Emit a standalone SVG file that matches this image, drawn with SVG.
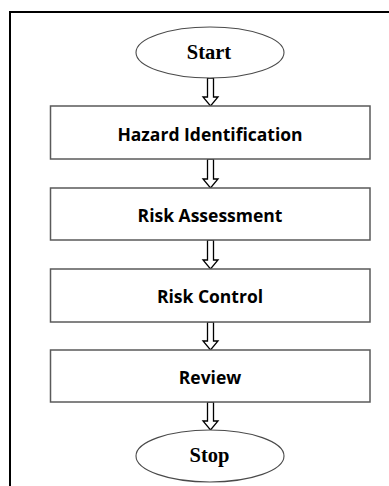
<svg xmlns="http://www.w3.org/2000/svg" width="389" height="486" viewBox="0 0 389 486">
<style>
.box{fill:#fff;stroke:#5a5a5a;stroke-width:1.5}
.oval{fill:#fff;stroke:#4a4a4a;stroke-width:1.1}
.arr{fill:#fff;stroke:#000;stroke-width:1.3;stroke-linejoin:miter}
.lbl{font-family:"Open Sans","Liberation Sans",sans-serif;font-weight:700;font-size:17.5px;fill:#000;text-anchor:middle}
.term{font-family:"Liberation Serif","Times New Roman",serif;font-weight:700;font-size:20.5px;fill:#000;text-anchor:middle}
.frame{stroke:#000;stroke-width:2;fill:none}
</style>
<rect width="389" height="486" fill="#fff"/>
<g id="frame">
<line class="frame" x1="9" y1="12" x2="389" y2="12"/>
<line class="frame" x1="10" y1="11" x2="10" y2="486"/>
</g>
<g id="connectors">
<polygon class="arr" points="207.5,78 207.5,97 203,97 210.5,106 218,97 213.5,97 213.5,78"/>
<polygon class="arr" points="207.5,159 207.5,179 203,179 210.5,188 218,179 213.5,179 213.5,159"/>
<polygon class="arr" points="207.5,240 207.5,260 203,260 210.5,269 218,260 213.5,260 213.5,240"/>
<polygon class="arr" points="207.5,322 207.5,341 203,341 210.5,350 218,341 213.5,341 213.5,322"/>
<polygon class="arr" points="207.5,402 207.5,421 203,421 210.5,430 218,421 213.5,421 213.5,402"/>
</g>
<g id="start">
<ellipse class="oval" cx="210" cy="52.5" rx="74" ry="25.5"/>
<text class="term" x="209" y="59">Start</text>
</g>
<g id="hazard">
<rect class="box" x="50.5" y="106" width="319.5" height="53"/>
<text class="lbl" x="210" y="140.5">Hazard Identification</text>
</g>
<g id="assessment">
<rect class="box" x="50.5" y="188" width="319.5" height="52"/>
<text class="lbl" x="210" y="221.5">Risk Assessment</text>
</g>
<g id="control">
<rect class="box" x="50.5" y="269" width="319.5" height="53"/>
<text class="lbl" x="210" y="303">Risk Control</text>
</g>
<g id="review">
<rect class="box" x="50.5" y="350" width="319.5" height="52"/>
<text class="lbl" x="210" y="383.5">Review</text>
</g>
<g id="stop">
<ellipse class="oval" cx="210" cy="456" rx="74" ry="26"/>
<text class="term" x="209.5" y="462">Stop</text>
</g>
</svg>
